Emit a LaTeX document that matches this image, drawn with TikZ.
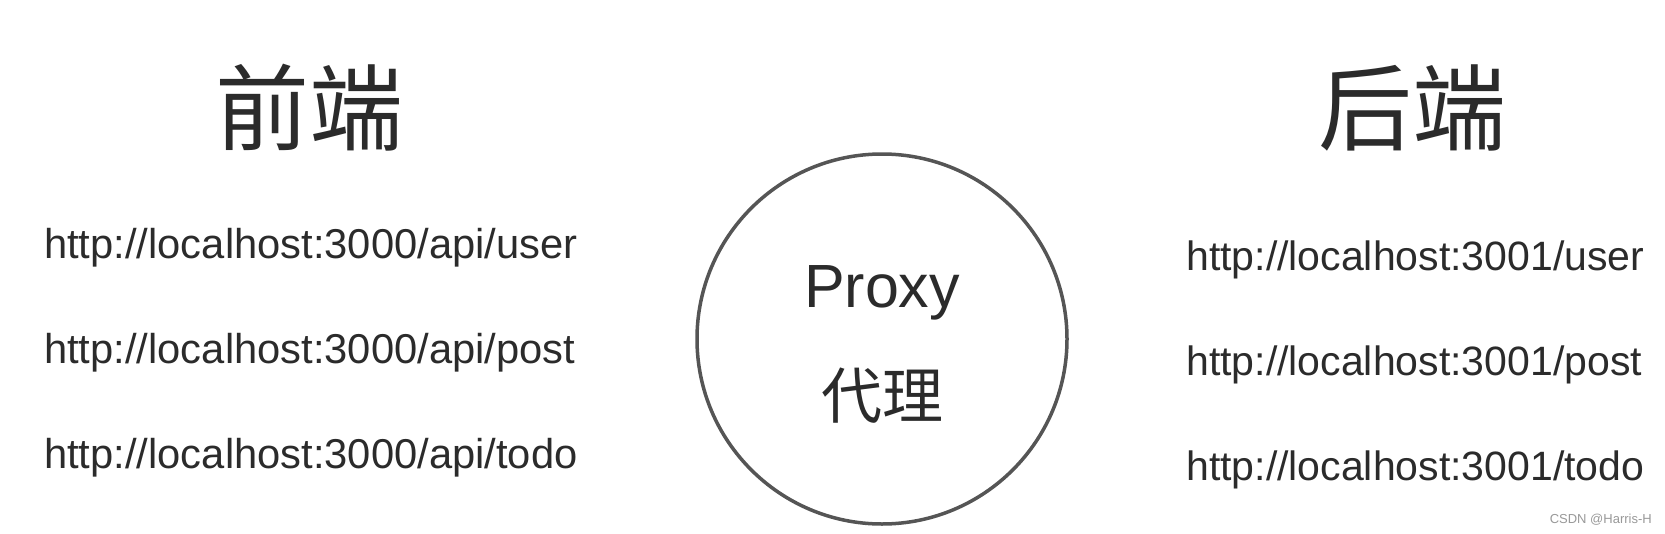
\documentclass[tikz,border=0pt]{standalone}
\usepackage{fontspec}
\setmainfont{Liberation Sans}
\newfontfamily\cjk{Noto Sans CJK SC}
\usepackage{xcolor}
\usepackage{tikz}
\definecolor{ink}{HTML}{2B2B2B}
\definecolor{ringgray}{HTML}{555555}

\begin{document}
\begin{tikzpicture}[x=1pt,y=-1pt,
    every node/.style={inner sep=0pt,text=ink},
    title/.style={anchor=base,font=\cjk\fontsize{94}{94}\selectfont},
    url/.style={anchor=base west,font=\fontsize{41}{41}\selectfont}]
	  % Page and margins
	  \fill[white] (0,0) rectangle (1665,533);
	  \useasboundingbox (0,0) rectangle (1665,533);
	  % Two headings
	  \node (front) [title] at (309,143) {前端};
	  \node (back) [title] at (1412,143) {后端};
	  % Frontend addresses
	  \node (f_1) [url,font=\fontsize{41.7}{41.7}\selectfont] at (44,258) {http://localhost:3000/api/user};
	  \node (f_2) [url,font=\fontsize{41.7}{41.7}\selectfont] at (44,363) {http://localhost:3000/api/post};
	  \node (f_3) [url,font=\fontsize{41.7}{41.7}\selectfont] at (44,468) {http://localhost:3000/api/todo};
	  % Backend addresses
	  \node (b_1) [url] at (1186,270) {http://localhost:3001/user};
	  \node (b_2) [url] at (1186,375) {http://localhost:3001/post};
	  \node (b_3) [url] at (1186,480) {http://localhost:3001/todo};
	  % The proxy in the middle
	  \node (ring) [draw=ringgray,line width=3.5pt,circle,minimum size=370pt] at (882,339) {};
	  \node (proxy) [anchor=base,font=\fontsize{61}{61}\selectfont] at (882,307) {Proxy};
	  \node (daili) [anchor=base,font=\cjk\fontsize{61}{61}\selectfont] at (882,418) {代理};
	  % Watermark
	  \node (mark) [anchor=base east,text=gray!80,font=\fontsize{13}{13}\selectfont] at (1652,523) {CSDN @Harris-H};
      \end{tikzpicture}
\end{document}
